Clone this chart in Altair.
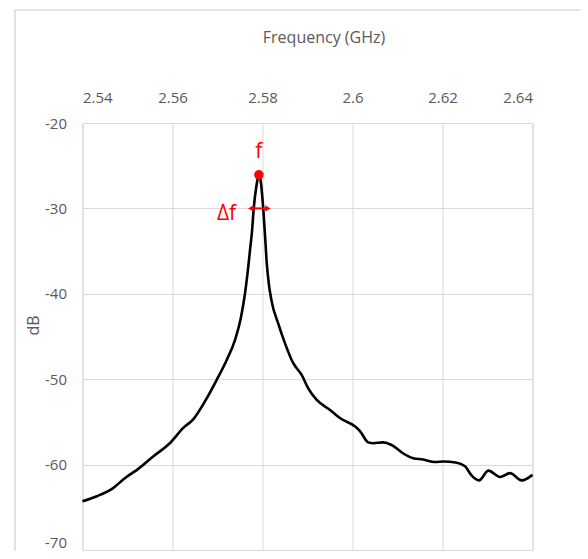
import altair as alt
import pandas as pd

# Resonance curve
freq_ghz = [2.5400, 2.5432, 2.5468, 2.5494, 2.5524, 2.5557, 2.5594, 2.5624, 2.5646,
            2.5672, 2.5698, 2.5720, 2.5739, 2.5752, 2.5761, 2.5767, 2.5772, 2.5777,
            2.5780, 2.5787, 2.5792, 2.5797, 2.5802, 2.5806, 2.5809, 2.5814, 2.5820,
            2.5835, 2.5850, 2.5868, 2.5887, 2.5902, 2.5920, 2.5950, 2.5972, 2.6006,
            2.6017, 2.6035, 2.6046, 2.6068, 2.6087, 2.6113, 2.6135, 2.6157, 2.6183,
            2.6202, 2.6229, 2.6250, 2.6265, 2.6281, 2.6302, 2.6328, 2.6350, 2.6376,
            2.6400]
level_db = [-64.3, -63.7, -62.75, -61.6, -60.5, -59.05, -57.5, -55.7, -54.7,
            -52.6, -50.1, -47.8, -45.4, -42.8, -40.0, -37.5, -35.0, -32.5,
            -30.3, -27.2, -26.07, -27.2, -30.3, -33.5, -36.1, -38.8, -40.8,
            -43.5, -45.8, -48.1, -49.5, -51.1, -52.4, -53.6, -54.55, -55.55,
            -56.1, -57.4, -57.5, -57.4, -57.7, -58.7, -59.25, -59.4, -59.7,
            -59.64, -59.75, -60.2, -61.3, -61.85, -60.7, -61.45, -61.0, -61.85,
            -61.2]

# Annotations
peak_f = [2.5792]
peak_db = [-26.07]
delta_f_start = [2.5774]
delta_f_end = [2.5812]
delta_db = [-30.0]
label_text = ["f", "\u0394f"]
label_f = [2.5792, 2.5720]
label_db = [-23.4, -30.6]

x_ticks = [2.54, 2.56, 2.58, 2.60, 2.62, 2.64]
y_ticks = [-70, -60, -50, -40, -30, -20]

FONT = "Open Sans"
GRAY = "#595959"
RED = "#ff0000"

curve = pd.DataFrame({"f": freq_ghz, "db": level_db})
peak = pd.DataFrame({"f": peak_f, "db": peak_db})
arrow = pd.DataFrame({"f": delta_f_start, "f2": delta_f_end, "db": delta_db})
heads = pd.DataFrame({"f": delta_f_start + delta_f_end, "db": delta_db * 2,
                      "shape": ["triangle-left", "triangle-right"]})
labels = pd.DataFrame({"t": label_text, "f": label_f, "db": label_db})

xscale = alt.Scale(domain=[2.54, 2.64], nice=False, zero=False)
yscale = alt.Scale(domain=[-70, -20], nice=False, zero=False)

x_axis = alt.Axis(orient="top", values=x_ticks, format=".2~f", title="Frequency (GHz)",
                  titleX=241, titleY=-86, titleBaseline="middle",
                  labelPadding=18, tickSize=0, ticks=False, domain=False,
                  grid=True, gridColor="#d9d9d9",
                  labelFont=FONT, labelFontSize=15, labelColor=GRAY,
                  titleFont=FONT, titleFontSize=16, titleFontWeight="normal", titleColor=GRAY)
y_axis = alt.Axis(values=y_ticks, labelExpr="toString(datum.value)",
                  labelBaseline={"condition": {"test": "datum.value == -70", "value": "bottom"},
                                 "value": "middle"},
                  title="dB", titleX=-49, titleY=202, titleBaseline="middle",
                  titleAngle=270, labelPadding=16, tickSize=0, ticks=False, domain=False,
                  grid=True, gridColor="#d9d9d9",
                  labelFont=FONT, labelFontSize=15, labelColor=GRAY,
                  titleFont=FONT, titleFontSize=16, titleFontWeight="normal", titleColor=GRAY)

line = alt.Chart(curve).mark_line(color="black", strokeWidth=2.6, interpolate="monotone").encode(
    x=alt.X("f:Q", scale=xscale, axis=x_axis),
    y=alt.Y("db:Q", scale=yscale, axis=y_axis),
)

dot = alt.Chart(peak).mark_point(filled=True, color=RED, size=90, opacity=1).encode(
    x=alt.X("f:Q", scale=xscale), y=alt.Y("db:Q", scale=yscale))

rule = alt.Chart(arrow).mark_rule(color=RED, strokeWidth=2).encode(
    x=alt.X("f:Q", scale=xscale), x2="f2:Q", y=alt.Y("db:Q", scale=yscale))

head = alt.Chart(heads).mark_point(filled=True, color=RED, size=40, opacity=1).encode(
    x=alt.X("f:Q", scale=xscale), y=alt.Y("db:Q", scale=yscale),
    shape=alt.Shape("shape:N", scale=None))

text = alt.Chart(labels).mark_text(color=RED, font=FONT, fontSize=21, baseline="middle").encode(
    x=alt.X("f:Q", scale=xscale), y=alt.Y("db:Q", scale=yscale), text="t:N")

frame = alt.Chart(pd.DataFrame({"a": [0]})).mark_rect(
    fill=None, stroke="#d9d9d9", strokeWidth=1.5).encode(
    x=alt.value(-67.5), y=alt.value(-113), x2=alt.value(620), y2=alt.value(620))

chart = alt.layer(frame, line, rule, head, dot, text).properties(
    width=450, height=427,
    autosize="none",
    padding={"left": 74.5, "top": 115, "right": 47, "bottom": 1},
    background="white",
).configure_view(stroke="#d9d9d9", strokeWidth=1)

chart.save("out.html", embed_options={"renderer": "svg", "actions": False})
